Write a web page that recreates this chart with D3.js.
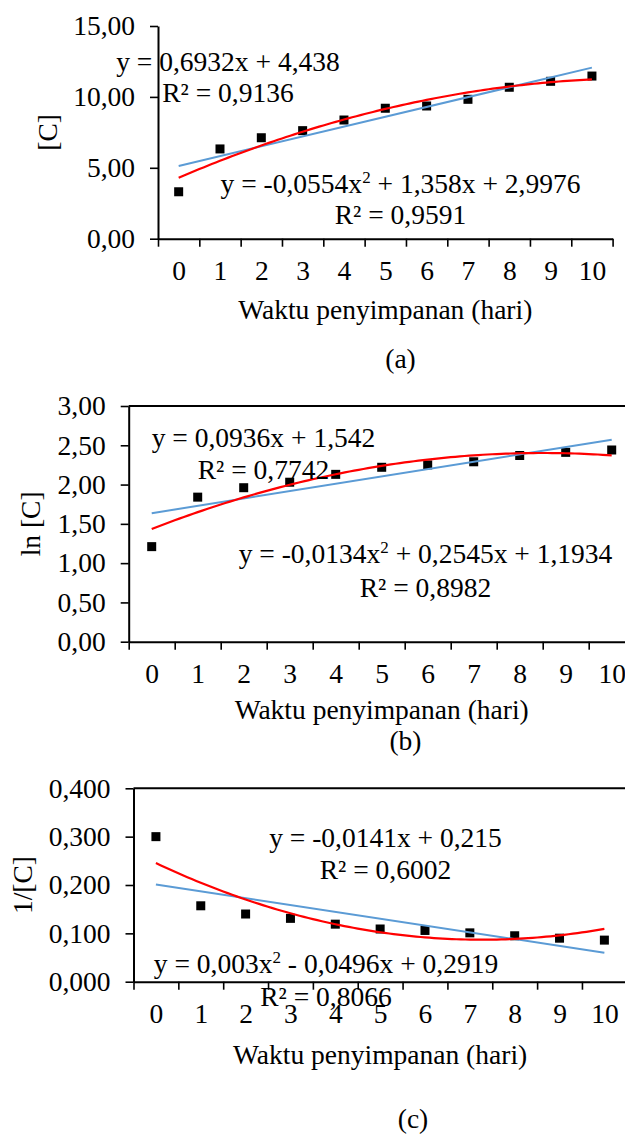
<!DOCTYPE html>
<html>
<head>
<meta charset="utf-8">
<script src="https://cdn.jsdelivr.net/npm/d3@7"></script>
<style>
  body { margin: 0; background: #fff; }
  svg text { font-family: "Liberation Serif", "Times New Roman", serif; fill: #000; }
</style>
</head>
<body>
<script>
// storage days (x categories)
const days = [0, 1, 2, 3, 4, 5, 6, 7, 8, 9, 10];

// measured values
const concC = [3.31, 6.33, 7.12, 7.62, 8.37, 9.20, 9.36, 9.83, 10.68, 11.10, 11.47];
const lnC = [1.21, 1.84, 1.96, 2.03, 2.13, 2.22, 2.25, 2.29, 2.37, 2.41, 2.44];
const invC = [0.300, 0.157, 0.140, 0.131, 0.119, 0.109, 0.106, 0.101, 0.095, 0.090, 0.086];

// trendline coefficients as printed on the chart (Excel x runs 1..11)
const linA = [0.6932, 4.438];
const polyA = [-0.0554, 1.358, 2.9976];
const linB = [0.0936, 1.542];
const polyB = [-0.0134, 0.2545, 1.1934];
const linC = [-0.0141, 0.215];
const polyC = [0.003, -0.0496, 0.2919];

// y tick values
const ticksA = [0, 5, 10, 15];
const ticksB = [0, 0.5, 1, 1.5, 2, 2.5, 3];
const ticksC = [0, 0.1, 0.2, 0.3, 0.4];

// equation labels
const eqLinA = ["y = 0,6932x + 4,438", "R² = 0,9136"];
const eqPolyA = ["y = -0,0554x^2 + 1,358x + 2,9976", "R² = 0,9591"];
const eqLinB = ["y = 0,0936x + 1,542", "R² = 0,7742"];
const eqPolyB = ["y = -0,0134x^2 + 0,2545x + 1,1934", "R² = 0,8982"];
const eqLinC = ["y = -0,0141x + 0,215", "R² = 0,6002"];
const eqPolyC = ["y = 0,003x^2 - 0,0496x + 0,2919", "R² = 0,8066"];

const xTitle = "Waktu penyimpanan (hari)";

const locale = d3.formatLocale({decimal: ",", thousands: ".", grouping: [3], currency: ["", ""]});

const panels = [
  {vals: concC, ticks: ticksA, fmt: ".2f", lin: linA, poly: polyA, eqLin: eqLinA, eqPoly: eqPolyA,
   top: 26, bottom: 238.7, left: 158, right: 612.6, frame: false,
   yLabel: "[C]", yLabelX: 57, caption: "(a)", titleY: 318.5, captionX: 400.5, captionY: 368,
   linPos: [228, 70.5, 101.5], polyPos: [400.5, 193, 224]},
  {vals: lnC, ticks: ticksB, fmt: ".2f", lin: linB, poly: polyB, eqLin: eqLinB, eqPoly: eqPolyB,
   top: 406, bottom: 641.7, left: 128.7, right: 634.7, frame: true,
   yLabel: "ln [C]", yLabelX: 40, caption: "(b)", titleY: 718.5, captionX: 405.5, captionY: 750,
   linPos: [263.5, 446.5, 479], polyPos: [425.5, 563, 596.5]},
  {vals: invC, ticks: ticksC, fmt: ".3f", lin: linC, poly: polyC, eqLin: eqLinC, eqPoly: eqPolyC,
   top: 788.3, bottom: 981.7, left: 133.5, right: 626.8, frame: true,
   yLabel: "1/[C]", yLabelX: 32, caption: "(c)", titleY: 1063.5, captionX: 413, captionY: 1128,
   linPos: [385.5, 847, 879], polyPos: [326, 973, 1006]}
];

const fs = 27.5;

const svg = d3.select("body")
  .append("svg")
  .attr("width", 625)
  .attr("height", 1135);

const writeEq = (g, lines, pos) => {
  lines.forEach((line, i) => {
    const t = g.append("text")
      .attr("x", pos[0])
      .attr("y", pos[1 + i])
      .attr("text-anchor", "middle")
      .style("font-size", fs + "px");
    const parts = line.split("^2");
    parts.forEach((part, j) => {
      const span = t.append("tspan").text(part);
      if (j > 0) span.attr("dy", 10);
      if (j < parts.length - 1) {
        t.append("tspan").attr("dy", -10).style("font-size", "17px").text("2");
      }
    });
  });
};

panels.forEach(p => {
  const g = svg.append("g");

  const x = d3.scaleLinear().domain([-0.5, 10.5]).range([p.left, p.right]);
  const y = d3.scaleLinear().domain([0, p.ticks[p.ticks.length - 1]]).range([p.bottom, p.top]);

  // markers
  g.selectAll("rect.pt")
    .data(days)
    .enter()
    .append("rect")
    .attr("class", "pt")
    .attr("x", d => x(d) - 4.5)
    .attr("y", (d, i) => y(p.vals[i]) - 4.5)
    .attr("width", 9)
    .attr("height", 9)
    .style("fill", "#000");

  // trendlines from printed equations
  const ts = d3.range(1, 11.001, 0.1);
  const linLine = d3.line().x(t => x(t - 1)).y(t => y(p.lin[0] * t + p.lin[1]));
  const polyLine = d3.line().x(t => x(t - 1)).y(t => y(p.poly[0] * t * t + p.poly[1] * t + p.poly[2]));

  g.append("path")
    .attr("d", linLine([1, 11]))
    .style("fill", "none")
    .attr("stroke", "#5b9bd5")
    .attr("stroke-width", 2);

  g.append("path")
    .attr("d", polyLine(ts))
    .style("fill", "none")
    .attr("stroke", "#ff0000")
    .attr("stroke-width", 2.2);

  // y axis
  const yAxis = g.append("g")
    .attr("transform", "translate(" + p.left + ",0)")
    .call(d3.axisLeft(y)
      .tickValues(p.ticks)
      .tickFormat(locale.format(p.fmt))
      .tickSize(8)
      .tickSizeOuter(0)
      .tickPadding(15));
  yAxis.select(".domain").attr("stroke-width", 2);
  yAxis.selectAll(".tick line").attr("stroke-width", 1.6);
  yAxis.selectAll("text")
    .style("font-size", fs + "px");

  // x axis ticks between categories
  const xAxis = g.append("g")
    .attr("transform", "translate(0," + p.bottom + ")")
    .call(d3.axisBottom(x)
      .tickValues(d3.range(-0.5, 11, 1))
      .tickFormat("")
      .tickSize(8)
      .tickSizeOuter(0));
  xAxis.select(".domain").attr("stroke-width", 2);
  xAxis.selectAll(".tick line").attr("stroke-width", 1.6);

  // category labels
  const xLab = g.append("g")
    .attr("transform", "translate(0," + p.bottom + ")")
    .call(d3.axisBottom(x)
      .tickValues(days)
      .tickFormat(d3.format("d"))
      .tickSize(0));
  xLab.select(".domain").remove();
  xLab.selectAll("text")
    .attr("y", 41.5)
    .attr("dy", 0)
    .style("font-size", fs + "px");

  if (p.frame) {
    g.append("line")
      .attr("x1", p.left)
      .attr("x2", p.right)
      .attr("y1", p.top)
      .attr("y2", p.top)
      .attr("stroke", "#000")
      .attr("stroke-width", 2);
  }

  // equations
  writeEq(g, p.eqLin, p.linPos);
  writeEq(g, p.eqPoly, p.polyPos);

  // axis titles
  g.append("text")
    .attr("x", (p.left + p.right) / 2)
    .attr("y", p.titleY)
    .attr("text-anchor", "middle")
    .style("font-size", fs + "px")
    .text(xTitle);

  g.append("text")
    .attr("transform", "translate(" + p.yLabelX + "," + (p.top + p.bottom) / 2 + ")rotate(-90)")
    .attr("text-anchor", "middle")
    .style("font-size", fs + "px")
    .text(p.yLabel);

  g.append("text")
    .attr("x", p.captionX)
    .attr("y", p.captionY)
    .attr("text-anchor", "middle")
    .style("font-size", fs + "px")
    .text(p.caption);
});
</script>
</body>
</html>
